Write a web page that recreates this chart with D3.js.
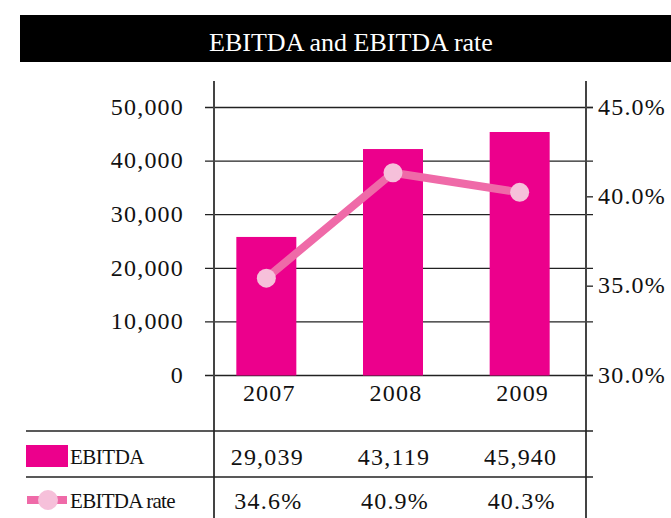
<html lang="en">
<head>
  <script src="https://d3js.org/d3.v7.min.js"></script>
  <style>
    body { margin: 0; background: white; }
    svg text { font-family: "Liberation Serif", "DejaVu Serif", serif; fill: #111; }
    svg text.num { font-size: 24px; letter-spacing: 1.2px; }
  </style>
</head>
<body>
  <svg id="chart" width="671" height="518"></svg>
  <script>
    // values
    const years = ["2007", "2008", "2009"];
    const ebitdaBars = [25850, 42250, 45430];      // plotted bar heights
    const ratePoints = [35.45, 41.35, 40.25];      // plotted line points (%)
    const ebitdaLabels = ["29,039", "43,119", "45,940"];
    const rateLabels = ["34.6%", "40.9%", "40.3%"];
    const leftTicks = [0, 10000, 20000, 30000, 40000, 50000];
    const rightTicks = [30, 35, 40, 45];

    const svg = d3.select("#chart");
    const W = +svg.attr("width");

    const barColor = "#ec008c";
    const lineColor = "#ef6aa8";
    const dotColor = "#f6c0da";

    // title bar
    svg.append("rect").attr("x", 20).attr("y", 15).attr("width", W - 20).attr("height", 47).attr("fill", "#000");
    svg.append("text").attr("x", 351).attr("y", 51).attr("text-anchor", "middle")
      .style("font-size", "26px").style("fill", "#fff").text("EBITDA and EBITDA rate");

    const x = d3.scaleBand().domain(years).range([203, 583]);
    const yL = d3.scaleLinear().domain([0, 50000]).range([375.5, 107.5]);
    const yR = d3.scaleLinear().domain([30, 45]).range([375.5, 107.5]);
    const axisL = 214, axisR = 586;
    const cx = d => x(d) + x.bandwidth() / 2;

    // gridlines (left scale)
    svg.append("g").selectAll("line").data(leftTicks).enter().append("line")
      .attr("x1", 205).attr("x2", 593)
      .attr("y1", d => yL(d)).attr("y2", d => yL(d))
      .attr("stroke", "#222").attr("stroke-width", 1.3);

    // right ticks
    svg.append("g").selectAll("line").data(rightTicks).enter().append("line")
      .attr("x1", axisR).attr("x2", 593)
      .attr("y1", d => yR(d)).attr("y2", d => yR(d))
      .attr("stroke", "#222").attr("stroke-width", 1.3);

    // left labels
    svg.append("g").selectAll("text").data(leftTicks).enter().append("text")
      .attr("class", "num")
      .attr("x", 184).attr("y", d => yL(d)).attr("dy", "0.3em")
      .attr("text-anchor", "end")
      .text(d => d3.format(",")(d));

    // right labels
    svg.append("g").selectAll("text").data(rightTicks).enter().append("text")
      .attr("class", "num")
      .attr("x", 598).attr("y", d => yR(d)).attr("dy", "0.3em")
      .text(d => d3.format(".1f")(d) + "%");

    // bars
    svg.append("g").selectAll("rect").data(years).enter().append("rect")
      .attr("x", d => cx(d) - 30)
      .attr("width", 60)
      .attr("y", (d, i) => yL(ebitdaBars[i]))
      .attr("height", (d, i) => yL(0) - yL(ebitdaBars[i]))
      .attr("fill", barColor);

    // year labels
    svg.append("g").selectAll("text").data(years).enter().append("text")
      .attr("class", "num")
      .attr("x", d => cx(d) + 3).attr("y", 401)
      .attr("text-anchor", "middle")
      .text(d => d);

    // rate line
    const line = d3.line()
      .x((d, i) => cx(years[i]))
      .y(d => yR(d));
    svg.append("path").datum(ratePoints).attr("d", line)
      .attr("fill", "none").attr("stroke", lineColor).attr("stroke-width", 8);
    svg.append("g").selectAll("circle").data(ratePoints).enter().append("circle")
      .attr("cx", (d, i) => cx(years[i]))
      .attr("cy", d => yR(d)).attr("r", 9.5)
      .attr("fill", dotColor);

    // axis lines
    [axisL, axisR].forEach(ax => {
      svg.append("line").attr("x1", ax).attr("x2", ax).attr("y1", 81).attr("y2", 518)
        .attr("stroke", "#444").attr("stroke-width", 2);
    });

    // table rules
    [431, 477].forEach(yy => {
      svg.append("line").attr("x1", 26).attr("x2", 593).attr("y1", yy).attr("y2", yy)
        .attr("stroke", "#222").attr("stroke-width", 1.3);
    });

    // legend cells
    svg.append("rect").attr("x", 26).attr("y", 445).attr("width", 42).attr("height", 22).attr("fill", barColor);
    svg.append("text").attr("x", 70).attr("y", 464).style("font-size", "21px").style("letter-spacing", "-0.5px").text("EBITDA");
    svg.append("line").attr("x1", 27).attr("x2", 67).attr("y1", 500).attr("y2", 500)
      .attr("stroke", lineColor).attr("stroke-width", 8);
    svg.append("circle").attr("cx", 48).attr("cy", 500).attr("r", 10).attr("fill", dotColor);
    svg.append("text").attr("x", 70).attr("y", 508).style("font-size", "21px").style("letter-spacing", "-0.7px").text("EBITDA rate");

    // table values
    svg.append("g").selectAll("text").data(ebitdaLabels).enter().append("text")
      .attr("class", "num")
      .attr("x", (d, i) => cx(years[i]) + 1).attr("y", 465)
      .attr("text-anchor", "middle").text(d => d);
    svg.append("g").selectAll("text").data(rateLabels).enter().append("text")
      .attr("class", "num")
      .attr("x", (d, i) => cx(years[i]) + 2).attr("y", 509)
      .attr("text-anchor", "middle").text(d => d);
  </script>
</body>
</html>
